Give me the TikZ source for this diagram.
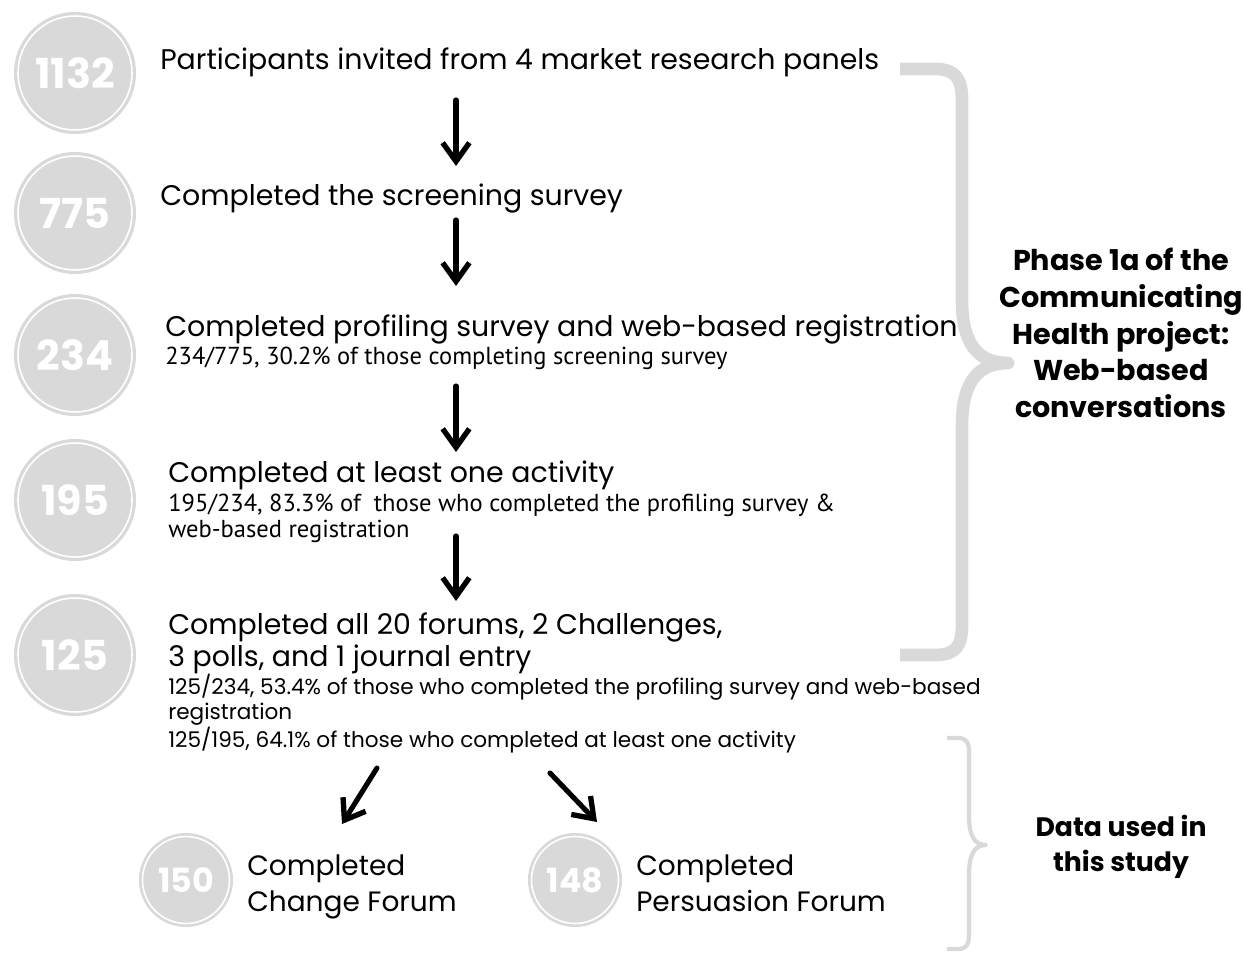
\documentclass[tikz,border=0pt]{standalone}
\usepackage{fontspec}
\setmainfont{Poppins}
\newfontfamily\subfont{PT Sans}
\usetikzlibrary{arrows.meta}
\definecolor{cgray}{HTML}{D9D9D9}
\tikzset{
  numcirc/.style={circle, fill=cgray, minimum size=#1, inner sep=0pt, text=white, font=\bfseries\fontsize{31}{31}\selectfont},
  ring/.style={draw=white, line width=1.2pt},
  maintxt/.style={anchor=base west, inner sep=0pt, font=\fontsize{21.3}{24}\selectfont},
  subtxt/.style={anchor=base west, inner sep=0pt, align=left, font=\subfont\fontsize{18.4}{18.8}\selectfont},
  headtxt/.style={align=center, inner sep=0pt, font=\bfseries\fontsize{21.5}{27.5}\selectfont},
  flowarrow/.style={-{Straight Barb[length=14pt,width=20pt,line width=4pt]}, line width=3.8pt, line cap=round},
  brace/.style={draw=cgray, line cap=butt, line join=round}
}
\begin{document}
\begin{tikzpicture}[x=0.75pt,y=-0.75pt]
\useasboundingbox (0,0) rectangle (1244,952);
% circles
\foreach \n/\cy/\lab in {c1/73/1132, c2/213/775, c3/355/234, c4/500/195, c5/655/125}{
  \node[numcirc=91.5pt] (\n) at (75,\cy) {\lab};
  \draw[ring] (75,\cy) circle (57);
}
\node[numcirc=70.5pt, font=\bfseries\fontsize{25}{25}\selectfont] (c6) at (186,880) {150};
\draw[ring] (186,880) circle (43.5);
\node[numcirc=70.5pt, font=\bfseries\fontsize{25}{25}\selectfont] (c7) at (575,880) {148};
\draw[ring] (575,880) circle (43.5);
% texts
\node[maintxt] (t1) at (160,70) {Participants invited from 4 market research panels};
\node[maintxt] (t2) at (160,206) {Completed the screening survey};
\node[maintxt] (t3) at (165,336) {Completed profiling survey and web-based registration};
\node[subtxt] (s3) at (165,364) {234/775, 30.2\% of those completing screening survey};
\node[maintxt] (t4) at (168,482) {Completed at least one activity};
\node[subtxt] (s4) at (168,537) {195/234, 83.3\% of\ \ those who completed the profiling survey \&\\web-based registration};
\node[maintxt, align=left, font=\fontsize{21.3}{23.5}\selectfont] (t5) at (168,666) {Completed all 20 forums, 2 Challenges,\\3 polls, and 1 journal entry};
\node[subtxt, font=\fontsize{16.2}{18.4}\selectfont] (s5) at (168,747) {125/234, 53.4\% of those who completed the profiling survey and web-based\\registration\\125/195, 64.1\% of those who completed at least one activity};
\node[maintxt, align=left, font=\fontsize{21}{26.3}\selectfont] (t6) at (247,911) {Completed\\Change Forum};
\node[maintxt, align=left, font=\fontsize{21}{26.3}\selectfont] (t7) at (636,911) {Completed\\Persuasion Forum};
% arrows
\coordinate (a1s) at (456,100); \coordinate (a1e) at (456,166);
\coordinate (a2s) at (456,220); \coordinate (a2e) at (456,286);
\coordinate (a3s) at (456,386); \coordinate (a3e) at (456,452);
\coordinate (a4s) at (456,536); \coordinate (a4e) at (456,601);
\coordinate (a5s) at (377,768); \coordinate (a5e) at (342,824);
\coordinate (a6s) at (550,773); \coordinate (a6e) at (597,822);
\draw[flowarrow] (a1s) -- (a1e);
\draw[flowarrow] (a2s) -- (a2e);
\draw[flowarrow] (a3s) -- (a3e);
\draw[flowarrow] (a4s) -- (a4e);
\draw[flowarrow] (a5s) -- (a5e);
\draw[flowarrow] (a6s) -- (a6e);
% big brace
\draw[brace, line width=9.5pt] (900,69) -- (935,69) .. controls (955,69) and (962,78) .. (962,100)
  -- (962,300) .. controls (962,340) and (975,363) .. (1008,363)
  .. controls (975,363) and (962,386) .. (962,426)
  -- (962,625) .. controls (962,647) and (955,655) .. (935,655) -- (900,655);
\node[headtxt] (h1) at (1121,333) {Phase 1a of the\\Communicating\\Health project:\\Web-based\\conversations};
% small brace
\draw[brace, line width=3.2pt] (947,738) -- (958,738) .. controls (966,738) and (969,742) .. (969,752)
  -- (969,815) .. controls (969,835) and (974,845) .. (986,845)
  .. controls (974,845) and (969,855) .. (969,875)
  -- (969,935) .. controls (969,945) and (966,949) .. (958,949) -- (947,949);
\node[headtxt, font=\bfseries\fontsize{20}{26.5}\selectfont] (h2) at (1121,847) {Data used in\\this study};
\end{tikzpicture}
\end{document}
